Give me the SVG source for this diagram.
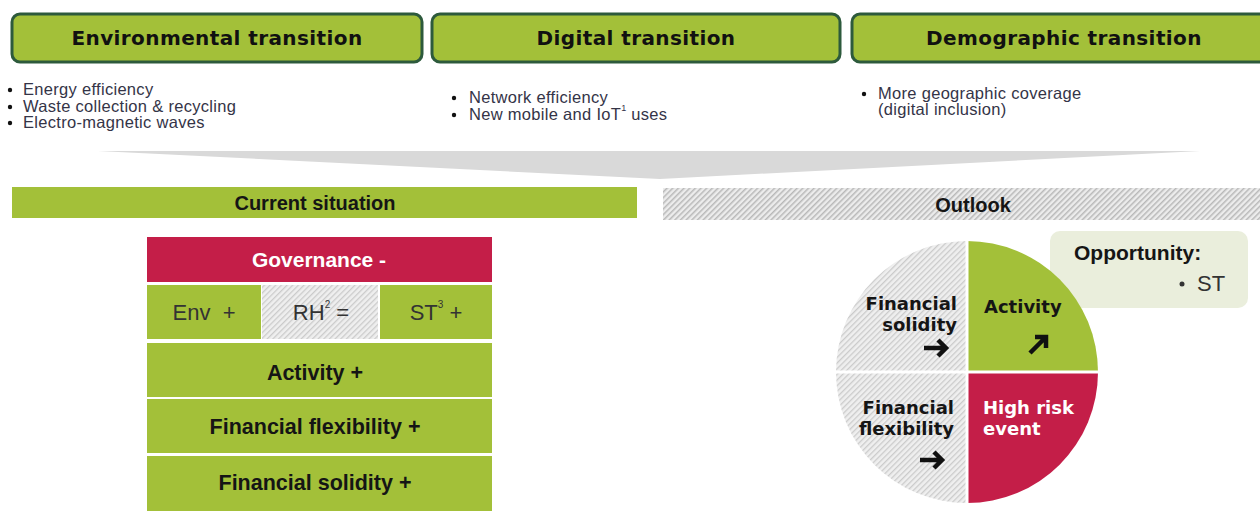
<svg xmlns="http://www.w3.org/2000/svg" width="1260" height="529" viewBox="0 0 1260 529">
<style>
.hdr{fill:#a3c039;stroke:#2d5a3c;stroke-width:3}
.hdrt{font-family:"DejaVu Sans",sans-serif;font-weight:bold;font-size:20px;letter-spacing:0.4px;fill:#111;text-anchor:middle}
.bl{font-family:"Liberation Sans",Arial,sans-serif;font-size:16.5px;letter-spacing:0.3px;fill:#343447}
.green{fill:#a3c039}
.red{fill:#c41e48}
.hatch{fill:url(#hatch)}
.hatch2{fill:url(#hatch2)}
.bt{font-family:"Liberation Sans",Arial,sans-serif;font-weight:bold;font-size:20px;fill:#151515;text-anchor:middle}
.bt2{font-family:"Liberation Sans",Arial,sans-serif;font-weight:bold;font-size:21.5px;fill:#151515;text-anchor:middle}
.rt{font-family:"Liberation Sans",Arial,sans-serif;font-size:22px;fill:#333;text-anchor:middle}
.pt{font-family:"DejaVu Sans",sans-serif;font-weight:bold;font-size:18px;fill:#151515}
.arr{fill:none;stroke:#111;stroke-width:4.5;stroke-linecap:butt;stroke-linejoin:miter}
</style>
<defs>
<pattern id="hatch" patternUnits="userSpaceOnUse" width="4" height="4" patternTransform="rotate(45)">
<rect width="4" height="4" fill="#efefef"/>
<rect width="1.3" height="4" fill="#cbcbcb"/>
</pattern>
<pattern id="hatch2" patternUnits="userSpaceOnUse" width="4" height="4" patternTransform="rotate(45)">
<rect width="4" height="4" fill="#ececec"/>
<rect width="1.5" height="4" fill="#b8b8b8"/>
</pattern>
</defs>
<rect width="1260" height="529" fill="#fff"/>

<g id="env-transition">
<rect class="hdr" x="12" y="14" width="410" height="48" rx="8"/>
<text class="hdrt" x="217" y="45">Environmental transition</text>
<circle cx="10" cy="90" r="2.2" fill="#111"/>
<circle cx="10" cy="107" r="2.2" fill="#111"/>
<circle cx="10" cy="123" r="2.2" fill="#111"/>
<text class="bl" x="23" y="95">Energy efficiency</text>
<text class="bl" x="23" y="112">Waste collection &amp; recycling</text>
<text class="bl" x="23" y="128">Electro-magnetic waves</text>
</g>

<g id="digital-transition">
<rect class="hdr" x="432" y="14" width="408" height="48" rx="8"/>
<text class="hdrt" x="636" y="45">Digital transition</text>
<circle cx="454" cy="98" r="2.2" fill="#111"/>
<circle cx="454" cy="115" r="2.2" fill="#111"/>
<text class="bl" x="469" y="103">Network efficiency</text>
<text class="bl" x="469" y="120">New mobile and IoT<tspan font-size="9" dy="-9">1</tspan><tspan dy="9"> uses</tspan></text>
</g>

<g id="demo-transition">
<rect class="hdr" x="852" y="14" width="424" height="48" rx="8"/>
<text class="hdrt" x="1064" y="45">Demographic transition</text>
<circle cx="864" cy="94" r="2.2" fill="#111"/>
<text class="bl" x="878" y="99">More geographic coverage</text>
<text class="bl" x="878" y="115">(digital inclusion)</text>
</g>

<g id="funnel">
<polygon points="98,151 1200,151 660,179" fill="#d9d9d9"/>
</g>

<g id="current-situation">
<rect class="green" x="12" y="187" width="625" height="31"/>
<text class="bt" x="315" y="210">Current situation</text>
</g>

<g id="outlook">
<rect class="hatch2" x="663" y="188" width="597" height="32"/>
<text class="bt" x="973" y="212">Outlook</text>
</g>

<g id="governance">
<rect class="red" x="147" y="237" width="345" height="45"/>
<text class="bt" x="319" y="267" style="fill:#fff;font-size:21px">Governance -</text>
</g>
<g id="env">
<rect class="green" x="147" y="285" width="114" height="54"/>
<text class="rt" x="204" y="320" xml:space="preserve">Env  +</text>
</g>
<g id="rh">
<rect class="hatch" x="262" y="285" width="116" height="54"/>
<text class="rt" x="321" y="320">RH<tspan font-size="10" dy="-12">2</tspan><tspan dy="12"> =</tspan></text>
</g>
<g id="st">
<rect class="green" x="380" y="285" width="112" height="54"/>
<text class="rt" x="436" y="320">ST<tspan font-size="10" dy="-12">3</tspan><tspan dy="12"> +</tspan></text>
</g>
<g id="activity">
<rect class="green" x="147" y="343" width="345" height="54"/>
<text class="bt2" x="315" y="380">Activity +</text>
</g>
<g id="fin-flex">
<rect class="green" x="147" y="399" width="345" height="54"/>
<text class="bt2" x="315" y="434">Financial flexibility +</text>
</g>
<g id="fin-solid">
<rect class="green" x="147" y="456" width="345" height="55"/>
<text class="bt2" x="315" y="490">Financial solidity +</text>
</g>

<g id="opportunity">
<rect x="1050" y="231" width="198" height="77" rx="10" fill="#eaeedc"/>
<text x="1074" y="260" font-family="Liberation Sans, Arial, sans-serif" font-weight="bold" font-size="21" fill="#151515">Opportunity:</text>
<circle cx="1182" cy="284" r="2.5" fill="#333"/>
<text x="1197" y="291" font-family="Liberation Sans, Arial, sans-serif" font-size="22" fill="#333">ST</text>
</g>

<g id="pie-solidity">
<path class="hatch" d="M967,241 A131,131 0 0,0 836,372 L967,372 Z"/>
<text class="pt" x="957" y="310" text-anchor="end">Financial</text>
<text class="pt" x="957" y="331" text-anchor="end">solidity</text>
<path class="arr" d="M924,348 L945,348 M938,340 L946,348 L938,356"/>
</g>
<g id="pie-flexibility">
<path class="hatch" d="M836,372 A131,131 0 0,0 967,503 L967,372 Z"/>
<text class="pt" x="954" y="414" text-anchor="end">Financial</text>
<text class="pt" x="954" y="435" text-anchor="end">flexibility</text>
<path class="arr" d="M920,460 L941,460 M934,452 L942,460 L934,468"/>
</g>
<g id="pie-activity">
<path class="green" d="M967,372 L967,241 A131,131 0 0,1 1098,372 Z"/>
<text class="pt" x="984" y="313">Activity</text>
<path class="arr" d="M1030,353 L1044,339 M1035,337 L1046,337 L1046,348"/>
</g>
<g id="pie-highrisk">
<path class="red" d="M967,372 L1098,372 A131,131 0 0,1 967,503 Z"/>
<text class="pt" x="983" y="414" style="fill:#fff">High risk</text>
<text class="pt" x="983" y="435" style="fill:#fff">event</text>
</g>
<g id="pie-dividers">
<line x1="967" y1="238" x2="967" y2="506" stroke="#fff" stroke-width="3"/>
<line x1="833" y1="372" x2="1101" y2="372" stroke="#fff" stroke-width="3"/>
</g>
</svg>
